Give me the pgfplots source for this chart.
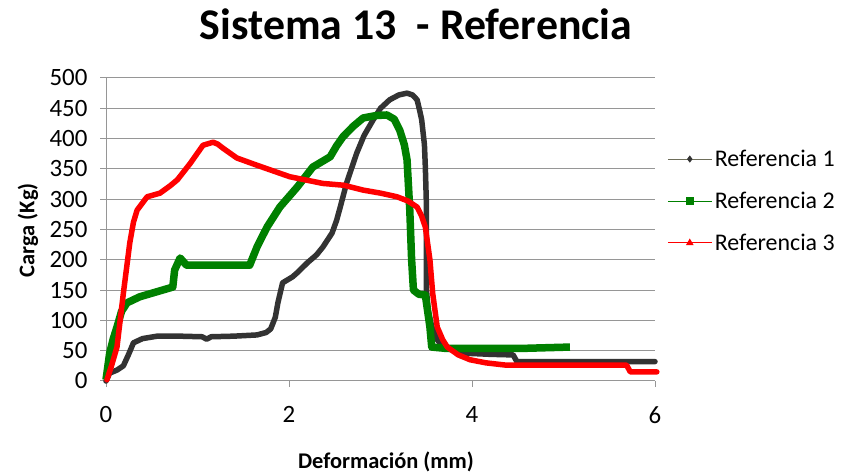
\documentclass[border=0pt]{standalone}
\usepackage{pgfplots}
\pgfplotsset{compat=1.18}
\usepackage{fontspec}
\setmainfont{Carlito}
\definecolor{ref1}{RGB}{51,51,51}
\definecolor{ref1leg}{RGB}{110,110,90}
\definecolor{ref2}{RGB}{0,128,0}
\definecolor{ref3}{RGB}{255,0,0}
\definecolor{gridc}{RGB}{150,150,150}
\begin{document}
\begin{tikzpicture}[x=1bp,y=1bp]
\path[use as bounding box] (0,0) rectangle (847,474);
\begin{axis}[
  at={(106bp,93bp)}, anchor=south west,
  scale only axis, width=549bp, height=303bp,
  xmin=0, xmax=6, ymin=0, ymax=500,
  xtick={0,2,4,6}, ytick={0,50,...,500},
  axis line style={gridc, line width=1bp},
  axis x line*=bottom, axis y line*=left,
  tick style={gridc, line width=1bp},
  major tick length=6bp,
  tick align=outside,
  ymajorgrids, major grid style={gridc, line width=1bp},
  /pgf/number format/assume math mode=true,
  ticklabel style={font=\fontsize{25}{27}\selectfont, text=black},
  yticklabel style={xshift=-9bp},
  xticklabel style={yshift=-16bp},
  title={\bfseries Sistema 13 \ - Referencia},
  title style={font=\fontsize{44}{48}\selectfont, at={(axis description cs:0.565,1.158)}, anchor=center},
  xlabel={\bfseries Deformación (mm)},
  ylabel={\bfseries Carga (Kg)},
  label style={font=\fontsize{22.5}{25}\selectfont},
  xlabel style={at={(axis description cs:0.51,-0.267)}, anchor=center},
  ylabel style={at={(axis description cs:-0.142,0.498)}, anchor=center, rotate=0},
  legend style={draw=none, fill=none, at={(axis description cs:1.022,0.594)}, anchor=west,
    font=\fontsize{24}{26}\selectfont, row sep=19bp, inner sep=0pt,
    nodes={inner sep=2.5bp}},
  legend image code/.code={\draw[mark repeat=2, mark phase=2] plot coordinates {(0bp,0bp) (22bp,0bp) (44bp,0bp)};},
  legend cell align=left,
  clip=false,
]
\addlegendimage{ref1leg, line width=1bp, mark=diamond*, mark size=2.8bp, mark options={ref1, solid}}
\addlegendentry{Referencia 1}
\addlegendimage{ref2, line width=1bp, mark=square*, mark size=3.5bp, mark options={ref2, solid}}
\addlegendentry{Referencia 2}
\addlegendimage{ref3, line width=1bp, mark=triangle*, mark size=3.5bp, mark options={ref3, solid}}
\addlegendentry{Referencia 3}
\addplot[ref1, line width=5.5bp, line join=round, line cap=round, forget plot]
coordinates {
(0,0)(0.04,13)(0.12,18)(0.19,25)(0.25,45)(0.3,63)(0.4,70)(0.56,74)(0.8,74)(1.05,73)(1.1,69)(1.15,73)(1.4,74)(1.65,76)(1.75,80)(1.8,86)(1.85,105)(1.88,130)(1.93,162)(2.04,172)(2.1,180)(2.2,195)(2.3,208)(2.37,221)(2.47,244)(2.52,265)(2.56,287)(2.63,327)(2.74,376)(2.82,405)(2.92,431)(3.0,450)(3.1,464)(3.2,472)(3.29,475)(3.35,472)(3.4,464)(3.43,445)(3.45,431)(3.48,390)(3.49,353)(3.5,300)(3.5,254)(3.5,200)(3.5,155)(3.52,117)(3.56,90)(3.62,68)(3.7,55)(3.9,46)(4.2,44)(4.45,43)(4.49,32)(4.7,32)(5.0,32)(5.5,32)(6.0,32)
};
\addplot[ref2, line width=7.5bp, line join=round, forget plot]
coordinates {
(0,2)(0.04,46)(0.08,70)(0.12,89)(0.17,115)(0.23,129)(0.37,139)(0.55,147)(0.73,155)(0.75,183)(0.81,203)(0.88,191)(1.1,191)(1.28,191)(1.57,191)(1.65,221)(1.76,254)(1.9,287)(2.09,320)(2.26,353)(2.45,370)(2.52,388)(2.59,403)(2.7,420)(2.81,434)(2.95,438)(3.07,439)(3.15,432)(3.21,414)(3.26,390)(3.29,365)(3.32,282)(3.34,200)(3.36,150)(3.42,143)(3.49,142)(3.52,110)(3.54,89)(3.56,56)(3.7,54)(3.84,54)(4.27,54)(4.6,54)(5.07,56)
};
\addplot[ref3, line width=5.5bp, line join=round, line cap=round, forget plot]
coordinates {
(0.01,2)(0.06,25)(0.12,56)(0.19,145)(0.26,228)(0.3,262)(0.34,282)(0.45,304)(0.59,310)(0.7,322)(0.78,332)(0.92,359)(1.06,389)(1.17,394)(1.22,391)(1.28,384)(1.43,368)(1.65,356)(2.01,337)(2.37,326)(2.6,323)(2.81,315)(3.0,310)(3.18,304)(3.3,297)(3.4,287)(3.45,272)(3.49,254)(3.54,200)(3.57,145)(3.62,89)(3.68,68)(3.73,56)(3.85,43)(3.98,35)(4.15,30)(4.38,26)(5.0,26)(5.69,26)(5.73,15)(6.02,15)
};
\end{axis}
\end{tikzpicture}
\end{document}
